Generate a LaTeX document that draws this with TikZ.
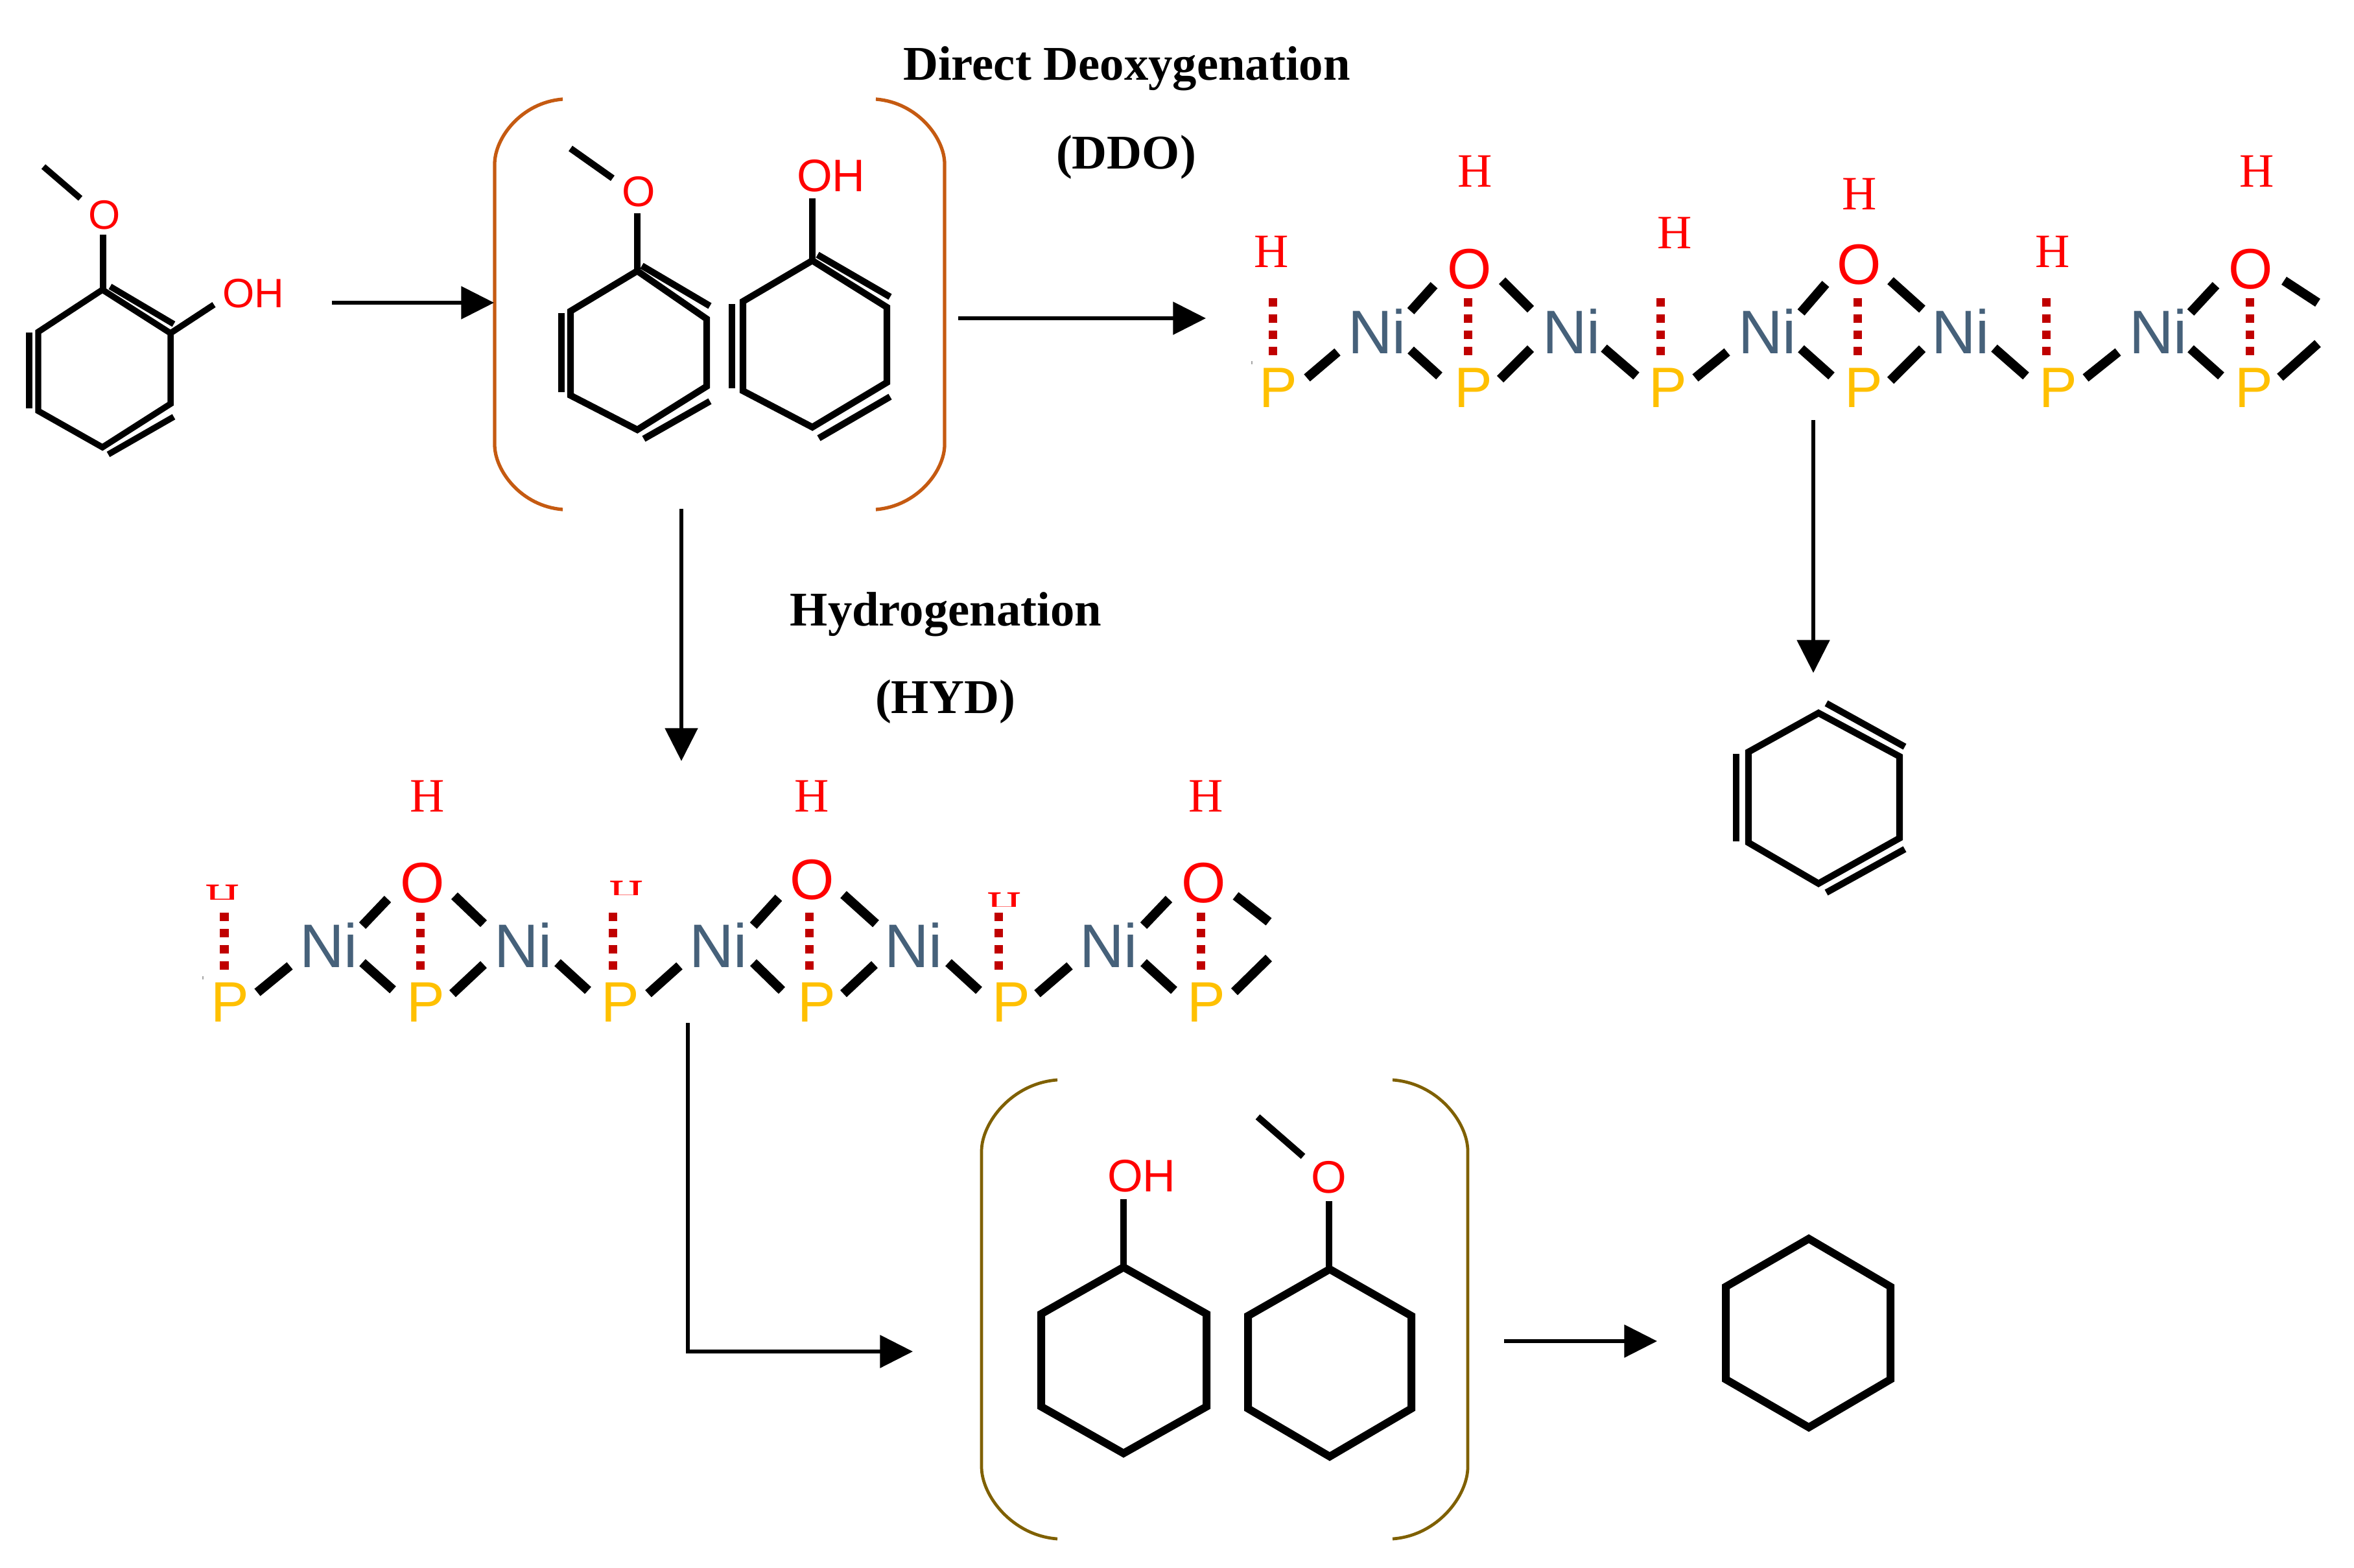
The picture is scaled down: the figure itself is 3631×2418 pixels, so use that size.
\documentclass[tikz,border=0pt]{standalone}
\usepackage{fontspec}
\setmainfont{Liberation Serif}
\newfontfamily\atomfont{Liberation Sans}
\usetikzlibrary{arrows.meta}
\definecolor{nicol}{HTML}{46617A}
\definecolor{pcol}{HTML}{FFC000}
\definecolor{dashcol}{HTML}{C00000}
\definecolor{brackA}{HTML}{C55A11}
\definecolor{brackB}{HTML}{7F6000}
\tikzset{
  x=0.01cm,y=-0.01cm,
  lbl/.style={inner sep=0pt,outer sep=0pt,anchor=base},
  titletext/.style={lbl,font=\fontsize{21.25}{25}\selectfont\bfseries},
  hlabel/.style={lbl,text=red,font=\fontsize{21}{25}\selectfont},
  nilabel/.style={lbl,text=nicol,font=\atomfont\fontsize{27}{30}\selectfont},
  plabel/.style={lbl,text=pcol,font=\atomfont\fontsize{25}{30}\selectfont},
  olabel/.style={lbl,text=red,font=\atomfont\fontsize{25}{30}\selectfont},
  smalloh/.style={lbl,text=red,font=\atomfont\fontsize{#1}{24}\selectfont},
  nibond/.style={line width=4.1pt,black},
  hbond/.style={line width=3.7pt,dashcol,dash pattern=on 3.78pt off 3.33pt},
  ring/.style={line width=#1,black,line join=miter},
  ring/.default=2.9pt,
  rxn/.style={line width=1.55pt,black,-{Triangle[length=14.4pt,width=14.2pt,sep=0pt]}},
  brackA line/.style={line width=1.5pt,brackA},
  brackB line/.style={line width=1.35pt,brackB},
  speck/.style={line width=0.8pt,black!35},
}
\begin{document}
\begin{tikzpicture}
\useasboundingbox (0,0) rectangle (3631,2418);
\fill[white] (0,0) rectangle (3631,2418);

% titles
\node[titletext] (ttlddo) at (1738,123) {Direct Deoxygenation};
\node[titletext] (ttlddob) at (1737,260) {(DDO)};
\node[titletext] (ttlhyd) at (1459,965) {Hydrogenation};
\node[titletext] (ttlhydb) at (1458,1100) {(HYD)};

% guaiacol
\draw[ring=2.7pt] (158,447) -- (263,514) -- (263,623) -- (158,690) -- (59,634) -- (59,512) -- cycle;
\draw[ring=2.7pt] (170,442) -- (268,500);
\draw[ring=2.7pt] (268,643) -- (167,701);
\draw[ring=2.7pt] (45,513) -- (45,630);
\draw[ring=2.7pt] (67,257) -- (124,306);
\draw[ring=2.7pt] (159,362) -- (159,447);
\draw[ring=2.7pt] (263,514) -- (330,470);
\node[smalloh=18] (gO) at (161,353) {O};
\node[smalloh=18] (gOH) at (391,474) {OH};

% first bracket
\draw[brackA line] (868,153) .. controls (804,158) and (763,213) .. (763,253) -- (763,686) .. controls (763,726) and (804,781) .. (868,786);
\draw[brackA line] (1351,153) .. controls (1415,158) and (1457,213) .. (1457,253) -- (1457,686) .. controls (1457,726) and (1415,781) .. (1351,786);

% anisole
\draw[ring] (983,418) -- (1090,492) -- (1090,596) -- (983,663) -- (880,610) -- (880,480) -- cycle;
\draw[ring] (990,410) -- (1095,472);
\draw[ring] (1095,619) -- (993,677);
\draw[ring] (866,483) -- (866,605);
\draw[ring] (880,229) -- (945,275);
\draw[ring] (983,329) -- (983,418);
\node[smalloh=18.8] (aO) at (985,318) {O};

% phenol
\draw[ring] (1253,402) -- (1368,474) -- (1368,590) -- (1253,659) -- (1146,603) -- (1146,465) -- cycle;
\draw[ring] (1261,393) -- (1373,458);
\draw[ring] (1373,612) -- (1263,676);
\draw[ring] (1129,469) -- (1129,599);
\draw[ring] (1253,306) -- (1253,402);
\node[smalloh=20] (phOH) at (1282,295) {OH};

% top catalyst row
\foreach \n/\x in {1/2124,2/2424,3/2726,4/3024,5/3329} \node[nilabel] (tNi\n) at (\x,545) {Ni};
\foreach \n/\x in {1/1972,2/2273,3/2573,4/2875,5/3175,6/3477} \node[plabel] (tP\n) at (\x,628) {P};
\foreach \n/\x/\b in {1/2267/445,2/2868/438,3/3472/445} \node[olabel] (tO\n) at (\x,\b) {O};
\foreach \n/\x/\b in {1/1961/412,2/2275/288,3/2583/383,4/2868/323,5/3166/412,6/3481/288} \node[hlabel] (tH\n) at (\x,\b) {H};
\foreach \x in {1963,2264,2561,2865,3156,3470} \draw[hbond] (\x,460) -- (\x,549);
\foreach \a/\b/\c/\d in {
 2016/583/2063/543, 2176/540/2220/580, 2176/480/2212/440, 2317/433/2361/477,
 2314/585/2361/538, 2474/537/2524/580, 2615/583/2664/543, 2778/538/2825/580,
 2778/482/2816/438, 2916/433/2965/477, 2916/587/2965/538, 3076/537/3125/580,
 3217/583/3267/543, 3379/538/3426/580, 3379/482/3418/440, 3523/433/3575/467,
 3517/582/3575/530}
  \draw[nibond] (\a,\b) -- (\c,\d);
\draw[speck] (1931,557) -- (1931,562);

% benzene
\draw[ring=2.9pt] (2805,1100) -- (2930,1167) -- (2930,1293) -- (2805,1363) -- (2697,1300) -- (2697,1160) -- cycle;
\draw[ring=2.9pt] (2817,1085) -- (2938,1152);
\draw[ring=2.9pt] (2938,1310) -- (2817,1377);
\draw[ring=2.9pt] (2678,1163) -- (2678,1298);

% lower catalyst row
\foreach \n/\x in {1/507,2/807,3/1108,4/1409,5/1710} \node[nilabel] (bNi\n) at (\x,1492) {Ni};
\foreach \n/\x in {1/355,2/657,3/957,4/1260,5/1560,6/1861} \node[plabel] (bP\n) at (\x,1576) {P};
\foreach \n/\x/\b in {1/652/1392,2/1253/1387,3/1857/1392} \node[olabel] (bO\n) at (\x,\b) {O};
\foreach \n/\x in {1/659,2/1252,3/1860} \node[hlabel] (bH\n) at (\x,1252) {H};
\foreach \n/\x/\b/\c in {4/343/1413/1387,5/966/1407/1380,6/1549/1425/1398} {
  \begin{scope}
    \clip (\x-40,\b-60) rectangle (\x+40,\c);
    \node[hlabel] (bH\n) at (\x,\b) {H};
  \end{scope}
}
\foreach \x in {346,648,945,1248,1540,1852} \draw[hbond] (\x,1408) -- (\x,1497);
\foreach \a/\b/\c/\d in {
 397/1531/447/1490, 559/1485/606/1527, 559/1428/598/1387, 701/1382/746/1425,
 698/1533/746/1488, 860/1485/907/1528, 1000/1533/1048/1490, 1162/1485/1206/1528,
 1162/1428/1201/1385, 1301/1380/1351/1425, 1301/1533/1349/1488, 1463/1485/1510/1528,
 1600/1533/1650/1490, 1764/1485/1811/1528, 1764/1428/1803/1387, 1906/1382/1957/1422,
 1904/1530/1957/1478}
  \draw[nibond] (\a,\b) -- (\c,\d);
\draw[speck] (313,1506) -- (313,1511);

% second bracket
\draw[brackB line] (1631,1666) .. controls (1561,1671) and (1514,1732) .. (1514,1776) -- (1514,2263) .. controls (1514,2307) and (1561,2369) .. (1631,2374);
\draw[brackB line] (2148,1666) .. controls (2218,1671) and (2264,1732) .. (2264,1776) -- (2264,2263) .. controls (2264,2307) and (2218,2369) .. (2148,2374);

% cyclohexanol
\draw[ring=3.4pt] (1733,1955) -- (1861,2027) -- (1861,2170) -- (1733,2242) -- (1606,2170) -- (1606,2027) -- cycle;
\draw[ring=2.9pt] (1733,1850) -- (1733,1955);
\node[smalloh=20] (cOH) at (1761,1838) {OH};

% methoxycyclohexane
\draw[ring=3.4pt] (2051,1958) -- (2177,2030) -- (2177,2173) -- (2051,2247) -- (1925,2173) -- (1925,2030) -- cycle;
\draw[ring=2.9pt] (2050,1853) -- (2050,1958);
\draw[ring=2.9pt] (1940,1723) -- (2010,1784);
\node[smalloh=20] (mO) at (2050,1840) {O};

% cyclohexane
\draw[ring=3.4pt] (2790,1911) -- (2916,1985) -- (2916,2128) -- (2790,2202) -- (2662,2128) -- (2662,1985) -- cycle;

% reaction arrows
\coordinate (a1s) at (512,467); \coordinate (a1e) at (762,467);
\coordinate (a2s) at (1478,491); \coordinate (a2e) at (1860,491);
\coordinate (a3s) at (1051,785); \coordinate (a3e) at (1051,1174);
\coordinate (a4s) at (2797,648); \coordinate (a4e) at (2797,1038);
\coordinate (a5s) at (1061,1578); \coordinate (a5e) at (1408,2085);
\coordinate (a6s) at (2320,2069); \coordinate (a6e) at (2556,2069);
\draw[rxn] (a1s) -- (a1e);
\draw[rxn] (a2s) -- (a2e);
\draw[rxn] (a3s) -- (a3e);
\draw[rxn] (a4s) -- (a4e);
\draw[rxn] (a5s) |- (a5e);
\draw[rxn] (a6s) -- (a6e);
\end{tikzpicture}
\end{document}
